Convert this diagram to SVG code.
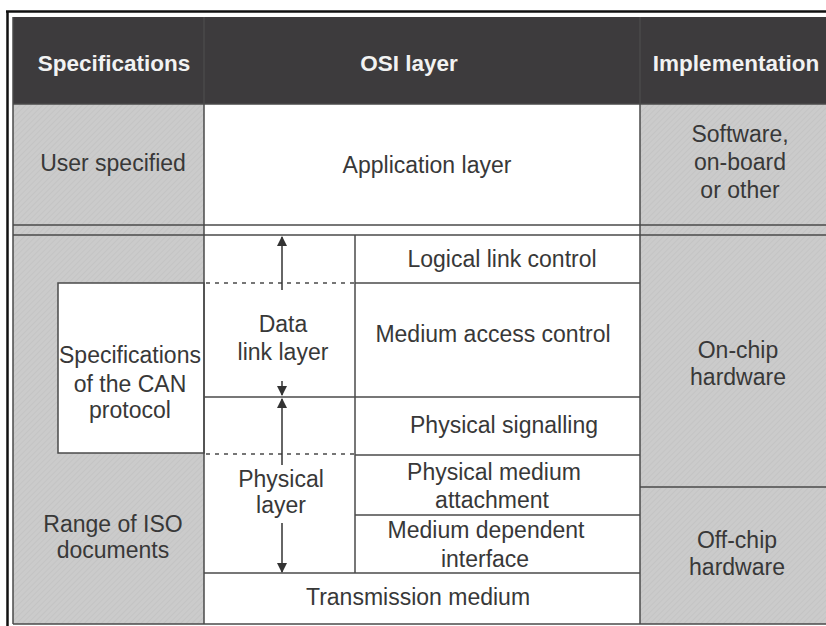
<svg xmlns="http://www.w3.org/2000/svg" width="826" height="626" viewBox="0 0 826 626">
<defs>
<pattern id="grain" width="4" height="4" patternUnits="userSpaceOnUse" patternTransform="rotate(45)">
<rect width="4" height="4" fill="#cbcbcb"/>
<line x1="0" y1="0" x2="0" y2="4" stroke="#c0c0c0" stroke-width="1.2"/>
</pattern>
<marker id="ah" viewBox="0 0 10 10" refX="9" refY="5" markerWidth="11" markerHeight="10" markerUnits="userSpaceOnUse" orient="auto">
<path d="M0,0 L10,5 L0,10 z" fill="#333"/>
</marker>
<style>
.t{font-family:"Liberation Sans",Arial,sans-serif;font-size:23px;fill:#383838;text-anchor:middle}
.h{font-family:"Liberation Sans",Arial,sans-serif;font-size:22.5px;font-weight:bold;fill:#f2f2f2;text-anchor:middle}
.ln{stroke:#4a4a4a;stroke-width:1.5;fill:none}
.dash{stroke:#4a4a4a;stroke-width:1.5;stroke-dasharray:4 5;fill:none}
.gray{fill:url(#grain)}
.arr{stroke:#333;stroke-width:1.5;fill:none}
</style>
</defs>
<rect width="826" height="626" fill="#ffffff"/>

<g id="header">
<rect x="13" y="17" width="813" height="87" fill="#3d3b3d"/>
<text class="h" x="114" y="71">Specifications</text>
<text class="h" x="409" y="71">OSI layer</text>
<text class="h" x="736" y="71">Implementation</text>
</g>

<g id="left-column">
<rect class="gray" x="13" y="104" width="191" height="520"/>
<text class="t" x="113" y="171">User specified</text>
<text class="t" x="113" y="532">Range of ISO</text>
<text class="t" x="113" y="558">documents</text>
</g>

<g id="right-column">
<rect class="gray" x="640" y="104" width="186" height="520"/>
<text class="t" x="740" y="142">Software,</text>
<text class="t" x="740" y="170">on-board</text>
<text class="t" x="740" y="198">or other</text>
</g>

<g id="application-layer">
<text class="t" x="427" y="173">Application layer</text>
</g>

<g id="can-spec">
<rect x="58" y="283" width="146" height="170" fill="#ffffff" stroke="#4a4a4a" stroke-width="1.5"/>
<text class="t" x="130" y="363">Specifications</text>
<text class="t" x="130" y="392">of the CAN</text>
<text class="t" x="130" y="418">protocol</text>
</g>

<g id="data-link-layer">
<text class="t" x="283" y="332">Data</text>
<text class="t" x="283" y="360">link layer</text>
</g>

<g id="physical-layer">
<text class="t" x="281" y="487">Physical</text>
<text class="t" x="281" y="513">layer</text>
</g>

<g id="llc"><text class="t" x="502" y="267">Logical link control</text></g>
<g id="mac"><text class="t" x="493" y="342">Medium access control</text></g>
<g id="pls"><text class="t" x="504" y="433">Physical signalling</text></g>
<g id="pma">
<text class="t" x="494" y="480">Physical medium</text>
<text class="t" x="492" y="508">attachment</text>
</g>
<g id="mdi">
<text class="t" x="486" y="538">Medium dependent</text>
<text class="t" x="485" y="567">interface</text>
</g>
<g id="transmission-medium"><text class="t" x="418" y="605">Transmission medium</text></g>

<g id="on-chip">
<text class="t" x="738" y="358">On-chip</text>
<text class="t" x="738" y="385">hardware</text>
</g>
<g id="off-chip">
<text class="t" x="737" y="548">Off-chip</text>
<text class="t" x="737" y="575">hardware</text>
</g>

<g id="grid-lines">
<line class="ln" x1="204" y1="17" x2="204" y2="624"/>
<line class="ln" x1="640" y1="17" x2="640" y2="624"/>
<line class="ln" x1="13" y1="104" x2="826" y2="104"/>
<line class="ln" x1="13" y1="225" x2="826" y2="225"/>
<line class="ln" x1="13" y1="235" x2="826" y2="235"/>
<line class="ln" x1="355" y1="235" x2="355" y2="573"/>
<line class="ln" x1="355" y1="283" x2="640" y2="283"/>
<line class="ln" x1="204" y1="397" x2="640" y2="397"/>
<line class="ln" x1="355" y1="455" x2="640" y2="455"/>
<line class="ln" x1="355" y1="515" x2="640" y2="515"/>
<line class="ln" x1="204" y1="573" x2="640" y2="573"/>
<line class="ln" x1="640" y1="487" x2="826" y2="487"/>
<line class="dash" x1="206" y1="283" x2="355" y2="283"/>
<line class="dash" x1="206" y1="454" x2="355" y2="454"/>
<line class="ln" x1="13" y1="17" x2="13" y2="624"/>
<line class="ln" x1="13" y1="624" x2="826" y2="624"/>
</g>

<g id="connectors">
<line class="arr" x1="282" y1="290" x2="282" y2="237" marker-end="url(#ah)"/>
<line class="arr" x1="282" y1="381" x2="282" y2="395" marker-end="url(#ah)"/>
<line class="arr" x1="282" y1="465" x2="282" y2="399" marker-end="url(#ah)"/>
<line class="arr" x1="282" y1="523" x2="282" y2="572" marker-end="url(#ah)"/>
</g>

<g id="frame">
<line x1="7.5" y1="11" x2="7.5" y2="626" stroke="#111" stroke-width="2.5"/>
<line x1="6" y1="11.5" x2="826" y2="11.5" stroke="#111" stroke-width="2.5"/>
</g>
</svg>
